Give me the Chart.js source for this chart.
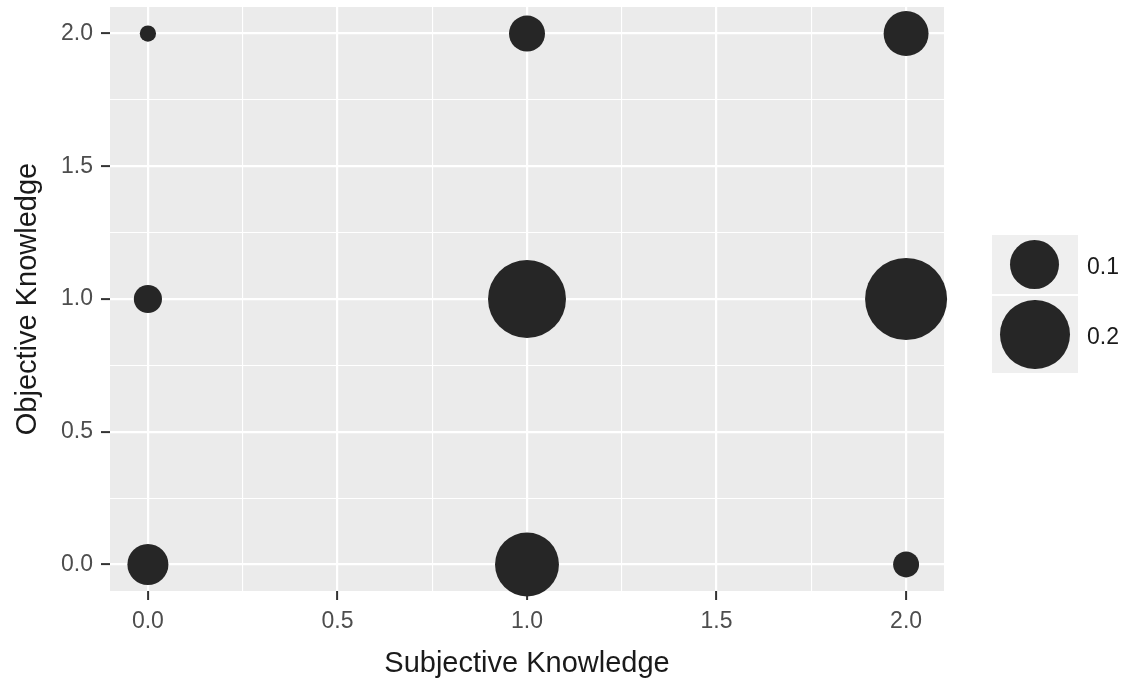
<!DOCTYPE html>
<html lang="en">
<head>
  <meta charset="UTF-8" />
  <title>Subjective vs Objective Knowledge</title>
  <script src="https://cdn.jsdelivr.net/npm/chart.js"></script>
  <style>
    body { margin: 0; background: #fff; font-family: "Liberation Sans", Arial, sans-serif; }
    #wrap { position: relative; width: 1131px; height: 685px; }
    #legend { position: absolute; left: 992px; top: 235px; }
    .key { position: relative; width: 86px; background: #EFEFEF; border-bottom: 2px solid #fff; }
    .key .dot { position: absolute; border-radius: 50%; background: #262626; }
    .key span { position: absolute; left: 95px; font-size: 23px; color: #1a1a1a; white-space: nowrap; }
  </style>
</head>
<body>
  <div id="wrap">
    <canvas id="bubbleChart" width="1131" height="685"></canvas>
    <div id="legend"></div>
  </div>

  <script>
    // data
    const subjective = [0, 1, 2, 0, 1, 2, 0, 1, 2];
    const objective  = [2, 2, 2, 1, 1, 1, 0, 0, 0];
    const proportion = [0.011, 0.054, 0.084, 0.033, 0.253, 0.28, 0.07, 0.17, 0.028];

    const tickValues = [0, 0.25, 0.5, 0.75, 1, 1.25, 1.5, 1.75, 2];
    const tickLabels = ['0.0', '', '0.5', '', '1.0', '', '1.5', '', '2.0'];
    const legendValues = [0.1, 0.2];
    const legendLabels = ['0.1', '0.2'];

    // bubble radius in px, area proportional to value
    const radius = v => 77.5 * Math.sqrt(v);

    const isMajor = v => Math.abs(v * 2 - Math.round(v * 2)) < 1e-6;

    const points = subjective.map((x, i) => ({ x, y: objective[i], r: radius(proportion[i]) }));

    const panelBg = {
      id: 'panelBg',
      beforeDraw(chart) {
        const a = chart.chartArea;
        const ctx = chart.ctx;
        ctx.save();
        ctx.fillStyle = '#EBEBEB';
        ctx.fillRect(a.left, a.top, a.right - a.left, a.bottom - a.top);
        ctx.restore();
      }
    };

    const axis = (title, pad, fitFn) => ({
      type: 'linear',
      min: -0.1,
      max: 2.1,
      afterBuildTicks: s => { s.ticks = tickValues.map(v => ({ value: v })); },
      afterFit: fitFn,
      border: { display: false },
      grid: {
        color: '#ffffff',
        lineWidth: c => isMajor(c.tick.value) ? 2.2 : 1.1,
        tickColor: c => isMajor(c.tick.value) ? '#333333' : 'rgba(0,0,0,0)',
        tickWidth: 2,
        tickLength: 9
      },
      ticks: {
        autoSkip: false,
        maxRotation: 0,
        padding: 8,
        color: '#4D4D4D',
        font: { family: 'Liberation Sans', size: 23 },
        callback: v => tickLabels[tickValues.indexOf(v)] ?? ''
      },
      title: {
        display: true,
        text: title,
        color: '#1a1a1a',
        font: { family: 'Liberation Sans', size: 29 },
        padding: pad
      }
    });

    const chart = new Chart(document.getElementById('bubbleChart'), {
      type: 'bubble',
      data: {
        datasets: [{
          data: points,
          backgroundColor: '#262626',
          borderWidth: 0,
          hoverBorderWidth: 0,
          clip: false
        }]
      },
      options: {
        responsive: false,
        animation: false,
        layout: { padding: { top: 7, right: 187, left: 0, bottom: 0 } },
        plugins: { legend: { display: false }, tooltip: { enabled: false } },
        scales: {
          x: axis('Subjective Knowledge', { top: 4, bottom: 4 }, s => {
            s.height = 94; s.paddingLeft = 0; s.paddingRight = 0;
          }),
          y: axis('Objective Knowledge', { top: 11, bottom: 4 }, s => {
            s.width = 110; s.paddingTop = 0; s.paddingBottom = 0;
          })
        }
      },
      plugins: [panelBg]
    });

    // the big bubbles would otherwise push the panel down; ggplot lets them overflow
    chart.getDatasetMeta(0).controller.getMaxOverflow = () => 0;
    chart.update();

    // size legend
    const legend = document.getElementById('legend');
    const keyHeights = [59, 77];
    legendValues.forEach((v, i) => {
      const r = radius(v);
      const key = document.createElement('div');
      key.className = 'key';
      key.style.height = keyHeights[i] + 'px';
      const dot = document.createElement('div');
      dot.className = 'dot';
      dot.style.width = dot.style.height = (2 * r) + 'px';
      dot.style.left = (43 - r) + 'px';
      dot.style.top = (keyHeights[i] / 2 - r) + 'px';
      const label = document.createElement('span');
      label.textContent = legendLabels[i];
      label.style.top = (keyHeights[i] / 2 - 12) + 'px';
      key.appendChild(dot);
      key.appendChild(label);
      legend.appendChild(key);
    });
  </script>
</body>
</html>
